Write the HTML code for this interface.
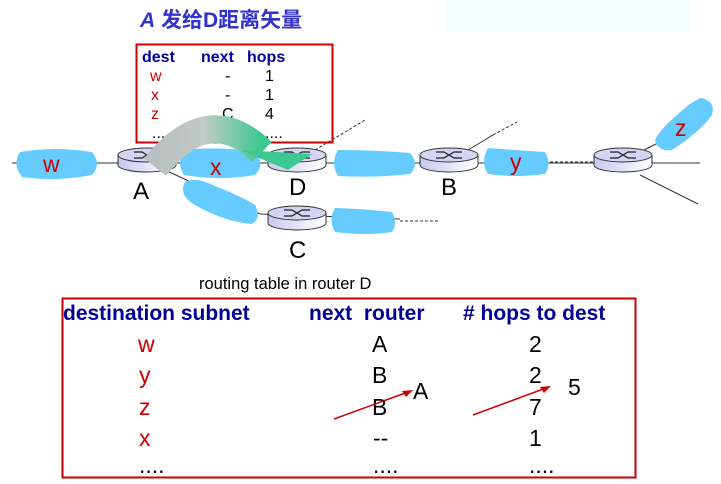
<!DOCTYPE html>
<html><head><meta charset="utf-8"><style>
html,body{margin:0;padding:0;background:#fff;width:721px;height:484px;overflow:hidden}
svg{display:block}
text{font-family:"Liberation Sans","Noto Sans CJK SC",sans-serif}
</style></head><body>
<svg width="721" height="484" viewBox="0 0 721 484" xmlns="http://www.w3.org/2000/svg">
<defs>
<linearGradient id="rg" x1="0" x2="1" y1="0" y2="0"><stop offset="0" stop-color="#c8c8f0"/><stop offset="1" stop-color="#ffffff"/></linearGradient>
<linearGradient id="ag" x1="0" x2="1" y1="0" y2="0"><stop offset="0" stop-color="#b8c0c0"/><stop offset="0.45" stop-color="#c2cac6"/><stop offset="1" stop-color="#3cc890"/></linearGradient>
<g id="router">
<path d="M-29,0 L-29,10 A29,7 0 0 0 29,10 L29,0 Z" fill="url(#rg)" stroke="#333" stroke-width="1"/>
<ellipse cx="0" cy="0" rx="29" ry="7" fill="#d4d4f4" stroke="#333" stroke-width="1"/>
<path d="M-13,-3 L-5,-3 L5,3 L13,3 M-13,3 L-5,3 L5,-3 L13,-3" fill="none" stroke="#222" stroke-width="1.3"/>
</g>
</defs>
<rect x="445" y="0" width="245" height="31" fill="#f5ffff"/>
<text x="140" y="27" font-size="21" font-weight="bold" fill="#3333cc"><tspan font-style="italic">A</tspan> 发给D距离矢量</text>

<g stroke="#333" stroke-width="1">
<line x1="12" y1="163" x2="700" y2="163"/>
<line x1="165" y1="170" x2="260" y2="214"/>
<line x1="260" y1="214" x2="400" y2="219"/>
<line x1="640" y1="175" x2="698" y2="204"/>
<line x1="640" y1="152" x2="660" y2="142"/>
<line x1="468" y1="150" x2="493" y2="135"/>
</g>
<g stroke="#333" stroke-width="1" stroke-dasharray="3,2" fill="none">
<line x1="163" y1="150" x2="215" y2="118"/>
<line x1="315" y1="150" x2="365" y2="120"/>
<line x1="493" y1="135" x2="517" y2="122"/>
<line x1="550" y1="162" x2="595" y2="162"/>
<line x1="400" y1="221" x2="440" y2="221"/>
</g>
<g fill="#66ccff">
<path d="M20,152 Q55,146 92,152 Q102,164 92,175 Q55,182 22,177 Q12,164 20,152Z"/>
<path d="M184,150 Q220,146 255,152 Q266,164 255,175 Q220,181 184,175 Q176,162 184,150Z"/>
<path d="M338,150 Q375,150 410,153 Q420,164 410,174 Q375,178 338,176 Q330,163 338,150Z"/>
<path d="M488,148 Q515,150 545,152 Q552,164 545,174 Q515,178 488,174 Q480,162 488,148Z"/>
<path d="M185,182 Q195,176 215,186 Q245,198 255,205 Q262,218 252,224 Q225,222 195,205 Q178,195 185,182Z"/>
<path d="M335,208 Q365,209 392,212 Q398,222 392,232 Q365,236 335,232 Q328,220 335,208Z"/>
<path d="M700,98 Q716,100 712,115 Q700,132 672,150 Q658,152 655,140 Q660,128 690,104Z"/>
</g>
<use href="#router" x="147" y="155"/>
<use href="#router" x="297" y="155"/>
<use href="#router" x="449" y="155"/>
<use href="#router" x="623" y="155"/>
<use href="#router" x="297" y="213"/>
<rect x="136.5" y="44.5" width="196" height="98" fill="none" stroke="#cc0000" stroke-width="2"/>
<g font-size="16" font-weight="bold" fill="#000099"><text x="142" y="62">dest</text><text x="201" y="62">next</text><text x="247" y="62">hops</text></g>
<g font-size="16" fill="#cc0000"><text x="150" y="81">w</text><text x="151" y="100">x</text><text x="151" y="119">z</text></g>
<g font-size="16" fill="#000"><text x="225" y="81">-</text><text x="225" y="100">-</text><text x="222" y="119">C</text><text x="265" y="81">1</text><text x="265" y="100">1</text><text x="265" y="119">4</text>
<text x="152" y="138">....</text><text x="225" y="138">....</text><text x="265" y="138">....</text></g>
<path d="M155,167 Q208,100 262,152" fill="none" stroke="url(#ag)" stroke-width="28"/>
<polygon points="240,150 312,154 288,170" fill="#3cc890"/>
<g font-size="24" fill="#000"><text x="133" y="199">A</text><text x="289" y="195">D</text><text x="441" y="195">B</text><text x="289" y="258">C</text></g>
<g font-size="23" fill="#cc0000"><text x="43" y="172">w</text><text x="210" y="175">x</text><text x="510" y="170">y</text><text x="675" y="136">z</text></g>
<text x="199" y="289" font-size="16.5" fill="#000">routing table in router D</text>
<rect x="62.5" y="298.5" width="573" height="179" fill="none" stroke="#cc0000" stroke-width="2"/>
<g font-size="21" font-weight="bold" fill="#000099"><text x="63" y="320">destination subnet</text><text x="309" y="320">next&#160; router</text><text x="463" y="320">#&#160;hops to dest</text></g>
<g font-size="23" fill="#cc0000"><text x="138" y="352">w</text><text x="139" y="383">y</text><text x="139" y="415">z</text><text x="139" y="446">x</text></g>
<g font-size="23" fill="#000"><text x="139" y="473">....</text>
<text x="372" y="352">A</text><text x="372" y="383">B</text><text x="372" y="415">B</text><text x="373" y="446">--</text><text x="373" y="473">....</text>
<text x="529" y="352">2</text><text x="529" y="383">2</text><text x="529" y="415">7</text><text x="529" y="446">1</text><text x="529" y="473">....</text>
<text x="413" y="399">A</text><text x="568" y="395">5</text></g>
<g stroke="#cc0000" stroke-width="1.5"><line x1="334" y1="419" x2="408" y2="392"/><line x1="473" y1="415" x2="546" y2="388"/></g>
<g fill="#cc0000"><polygon points="413,390 402,391 406,397"/><polygon points="551,386 540,387 544,393"/></g>
</svg>
</body></html>
